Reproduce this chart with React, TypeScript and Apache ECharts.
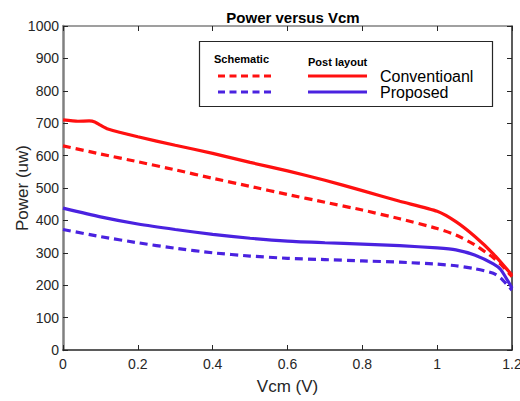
import React, { useEffect, useRef } from "react";
import * as echarts from "echarts";

const vcm = [0, 0.04, 0.07, 0.085, 0.1, 0.12, 0.2, 0.3, 0.4, 0.5, 0.6, 0.7, 0.8, 0.9, 1.0, 1.05, 1.1, 1.15, 1.2];
const convPost = [710, 706, 707, 704, 694, 682, 658, 632, 607, 579, 553, 524, 492, 459, 428, 396, 351, 297, 231];

const vcmB = [0, 0.1, 0.2, 0.3, 0.4, 0.5, 0.6, 0.7, 0.8, 0.9, 1.0, 1.05, 1.1, 1.15, 1.17, 1.2];
const convSch = [630, 605, 581, 556, 530, 505, 480, 456, 432, 405, 375, 355, 325, 285, 265, 226];
const propPost = [438, 411, 389, 372, 357, 345, 336, 331, 327, 322, 315, 309, 293, 266, 248, 191];
const propSch = [372, 350, 331, 314, 300, 290, 283, 279, 275, 271, 265, 260, 251, 237, 222, 185];

const xTicks = [0, 0.2, 0.4, 0.6, 0.8, 1, 1.2];
const title = "Power versus Vcm";

const RED = "#ff1010";
const BLUE = "#4a22e0";

const pairs = (xs: number[], ys: number[]) => xs.map((x, i) => [x, ys[i]]);

export default function App() {
  const ref = useRef<HTMLDivElement>(null);
  useEffect(() => {
    const chart = echarts.init(ref.current!, undefined, { renderer: "svg" });
    const font = "Liberation Sans, Arial, sans-serif";
    const line = (name: string, data: number[][], color: string, dashed: boolean) => ({
      name,
      type: "line",
      data,
      showSymbol: false,
      smooth: 0.2,
      lineStyle: { color, width: 3.2, type: dashed ? [8, 5] : "solid", cap: "butt" },
      itemStyle: { color },
    });
    chart.setOption({
      animation: false,
      backgroundColor: "#ffffff",
      title: {
        text: title,
        left: 288,
        textAlign: "center",
        top: 5,
        textStyle: { fontFamily: font, fontSize: 15, fontWeight: "bold", color: "#000" },
      },
      grid: { left: 63, right: 8, top: 26, bottom: 51, containLabel: false, outerBoundsMode: "none" },
      xAxis: [
        {
          type: "value",
          min: 0,
          max: 1.2,
          interval: 0.2,
          name: "Vcm (V)",
          nameLocation: "middle",
          nameGap: 28,
          nameMoveOverlap: false,
          nameTextStyle: { fontFamily: font, fontSize: 17, color: "#262626" },
          axisLine: { onZero: false, lineStyle: { color: "#262626", width: 1.5 } },
          axisTick: { inside: true, length: 5, lineStyle: { color: "#262626" } },
          axisLabel: {
            fontFamily: font,
            fontSize: 14,
            color: "#262626",
            margin: 7,
            formatter: (v: number) => {
              const t = xTicks.find((k) => Math.abs(k - v) < 1e-6);
              return t === undefined ? "" : String(t);
            },
          },
          splitLine: { show: false },
        },
        {
          type: "value",
          position: "top",
          min: 0,
          max: 1.2,
          interval: 0.2,
          axisLine: { onZero: false, lineStyle: { color: "#808080", width: 1.5 } },
          axisTick: { inside: true, length: 5, lineStyle: { color: "#262626" } },
          axisLabel: { show: false },
          splitLine: { show: false },
        },
      ],
      yAxis: [
        {
          type: "value",
          min: 0,
          max: 1000,
          interval: 100,
          name: "Power (uw)",
          nameLocation: "middle",
          nameGap: 32,
          nameMoveOverlap: false,
          nameRotate: 90,
          nameTextStyle: { fontFamily: font, fontSize: 17, color: "#262626" },
          axisLine: { onZero: false, lineStyle: { color: "#808080", width: 2.5 } },
          axisTick: { inside: true, length: 5, lineStyle: { color: "#262626" } },
          axisLabel: {
            fontFamily: font,
            fontSize: 14,
            color: "#262626",
            margin: 4,
            formatter: (v: number) => String(v),
          },
          splitLine: { show: false },
        },
        {
          type: "value",
          position: "right",
          min: 0,
          max: 1000,
          interval: 100,
          axisLine: { onZero: false, lineStyle: { color: "#262626", width: 1.5 } },
          axisTick: { inside: true, length: 5, lineStyle: { color: "#262626" } },
          axisLabel: { show: false },
          splitLine: { show: false },
        },
      ],
      series: [
        line("Conventional schematic", pairs(vcmB, convSch), RED, true),
        line("Proposed schematic", pairs(vcmB, propSch), BLUE, true),
        line("Conventioanl", pairs(vcm, convPost), RED, false),
        line("Proposed", pairs(vcmB, propPost), BLUE, false),
      ],
      graphic: [
        {
          type: "rect",
          shape: { x: 199.5, y: 41.5, width: 293, height: 65 },
          style: { fill: "#fff", stroke: "#262626", lineWidth: 1.2 },
          z: 10,
        },
        {
          type: "text",
          x: 214,
          y: 53,
          style: { text: "Schematic", font: `bold 11px ${font}`, fill: "#000" },
          z: 11,
        },
        {
          type: "text",
          x: 308,
          y: 56,
          style: { text: "Post layout", font: `bold 11px ${font}`, fill: "#000" },
          z: 11,
        },
        {
          type: "line",
          shape: { x1: 218, y1: 76, x2: 272, y2: 76 },
          style: { stroke: RED, lineWidth: 3.2, lineDash: [7, 4.5] },
          z: 11,
        },
        {
          type: "line",
          shape: { x1: 218, y1: 92, x2: 272, y2: 92 },
          style: { stroke: BLUE, lineWidth: 3.2, lineDash: [7, 4.5] },
          z: 11,
        },
        {
          type: "line",
          shape: { x1: 308, y1: 76, x2: 367, y2: 76 },
          style: { stroke: RED, lineWidth: 3.2 },
          z: 11,
        },
        {
          type: "line",
          shape: { x1: 308, y1: 92, x2: 367, y2: 92 },
          style: { stroke: BLUE, lineWidth: 3.2 },
          z: 11,
        },
        {
          type: "text",
          x: 380,
          y: 68,
          style: { text: "Conventioanl", font: `16px ${font}`, fill: "#000" },
          z: 11,
        },
        {
          type: "text",
          x: 380,
          y: 84,
          style: { text: "Proposed", font: `16px ${font}`, fill: "#000" },
          z: 11,
        },
      ],
    });
    return () => chart.dispose();
  }, []);
  return <div ref={ref} style={{ width: 520, height: 401, position: "absolute", left: 0, top: 0 }} />;
}
